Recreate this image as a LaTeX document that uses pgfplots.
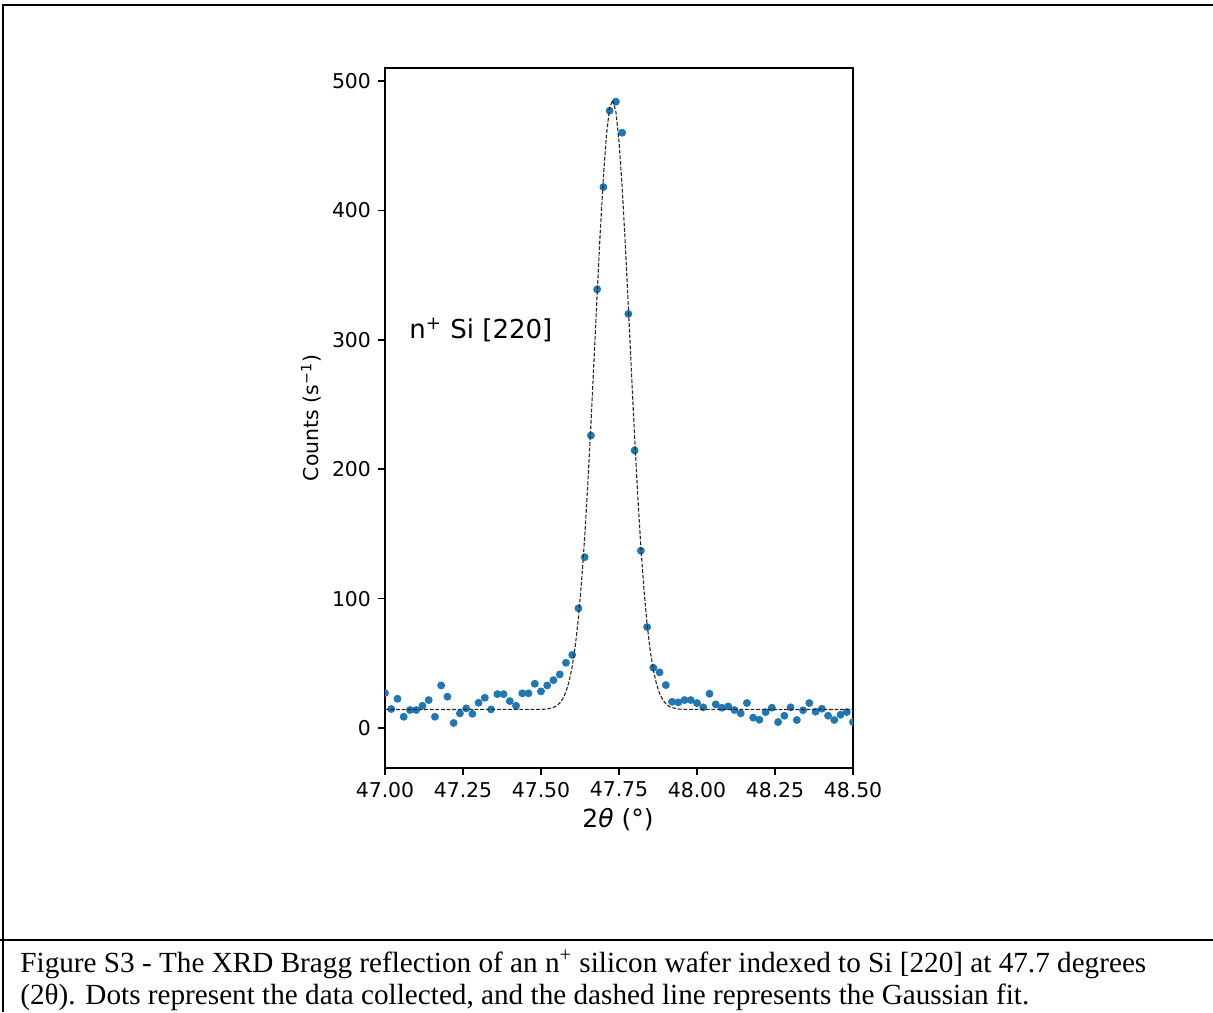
\documentclass[border=0pt]{standalone}
\usepackage{fontspec}
\setmainfont{Liberation Serif}
\newfontfamily\dv{DejaVu Sans}
\usepackage{pgfplots}
\pgfplotsset{compat=1.18}
\definecolor{mplblue}{RGB}{31,119,180}

% measured counts
\pgfplotstableread{
x y
47.00 27.0
47.02 14.7
47.04 22.6
47.06 8.7
47.08 13.9
47.10 13.9
47.12 17.2
47.14 21.6
47.16 8.7
47.18 32.9
47.20 24.2
47.22 3.9
47.24 11.3
47.26 15.2
47.28 11.0
47.30 19.5
47.32 23.4
47.34 14.4
47.36 26.2
47.38 26.2
47.40 20.8
47.42 17.2
47.44 26.8
47.46 26.8
47.48 34.2
47.50 28.3
47.52 32.9
47.54 37.0
47.56 41.4
47.58 50.4
47.60 56.5
47.62 92.5
47.64 132
47.66 226
47.68 339
47.70 418
47.72 477
47.74 484
47.76 460
47.78 320
47.80 214.5
47.82 137
47.84 78
47.86 46.6
47.88 43
47.90 33.2
47.92 20.3
47.94 19.8
47.96 21.6
47.98 21.6
48.00 19.3
48.02 16.0
48.04 26.5
48.06 18.3
48.08 15.7
48.10 16.7
48.12 13.9
48.14 11.3
48.16 19.3
48.18 8.0
48.20 6.4
48.22 12.3
48.24 15.7
48.26 4.6
48.28 9.5
48.30 16.0
48.32 6.2
48.34 13.7
48.36 19.3
48.38 12.6
48.40 14.9
48.42 9.5
48.44 6.2
48.46 10.3
48.48 12.3
48.50 4.6
}\counts

% gaussian fit
\pgfplotstableread{
x y
47.00 14.3
47.50 14.4
47.52 14.7
47.54 15.9
47.55 17.1
47.56 19.3
47.57 22.7
47.58 28.0
47.59 35.9
47.60 47.5
47.61 63.6
47.62 85.1
47.63 113.0
47.64 147.5
47.65 188.4
47.66 234.8
47.67 284.7
47.68 335.5
47.69 383.9
47.70 426.2
47.71 459.0
47.72 479.3
47.73 485.3
47.74 476.3
47.75 453.3
47.76 418.4
47.77 374.6
47.78 325.4
47.79 274.5
47.80 225.2
47.81 179.8
47.82 140.1
47.83 106.9
47.84 80.3
47.85 59.9
47.86 44.8
47.87 34.1
47.88 26.7
47.89 21.8
47.90 18.8
47.91 16.8
47.92 15.7
47.94 14.7
47.96 14.4
48.50 14.3
}\fit

\begin{document}
\begin{tikzpicture}
\path[use as bounding box] (0,0) rectangle (606.5pt,-506pt);
\draw[line width=1pt] (1.5pt,-506pt) -- (1.5pt,-2.5pt) -- (606.5pt,-2.5pt);
\draw[line width=1pt] (0,-470pt) -- (606.5pt,-470pt);

\node[anchor=base west, inner sep=0, font=\fontsize{14.6}{17}\selectfont] at (10pt,-486pt)
  {Figure S3 - The XRD Bragg reflection of an n\textsuperscript{+} silicon wafer indexed to Si [220] at 47.7 degrees};
\node[anchor=base west, inner sep=0, font=\fontsize{14.6}{17}\selectfont] at (10pt,-502pt)
  {(2θ). Dots represent the data collected, and the dashed line represents the Gaussian fit.};

\begin{axis}[
  at={(192.5pt,-384pt)}, anchor=south west,
  width=234pt, height=350pt, scale only axis,
  xmin=47, xmax=48.5, ymin=-30.9, ymax=510,
  xtick={47,47.25,47.5,47.75,48,48.25,48.5},
  ytick={0,100,200,300,400,500},
  /pgf/number format/assume math mode=true,
  x tick label style={/pgf/number format/.cd, fixed, fixed zerofill, precision=2, /tikz/.cd},
  tick label style={font=\dv\fontsize{10.2}{12}\selectfont},
  xlabel style={font=\dv\fontsize{12.5}{15}\selectfont},
  ylabel style={font=\dv\fontsize{10.2}{12}\selectfont},
  tick align=outside, major tick length=3.5pt,
  xtick pos=bottom, ytick pos=left,
  axis line style={line width=0.8pt},
  tick style={line width=0.8pt, black},
  clip marker paths=true,
  xlabel={2\textit{θ} (°)},
  ylabel={Counts (s\textsuperscript{−1})},
  xlabel style={at={(axis description cs:0.498,-0.0743)}, anchor=center},
  ylabel style={at={(axis description cs:-0.158,0.5)}, anchor=center},
]
\addplot[only marks, mark=*, mark size=1.75pt, color=mplblue] table {\counts};
\addplot[black!85, line width=0.55pt, dash pattern=on 1.9pt off 0.9pt] table {\fit};
\node[anchor=base west, inner sep=0, font=\dv\fontsize{13}{15}\selectfont]
  at (axis cs:47.077,301) {n\textsuperscript{+} Si [220]};
\end{axis}
\end{tikzpicture}
\end{document}
